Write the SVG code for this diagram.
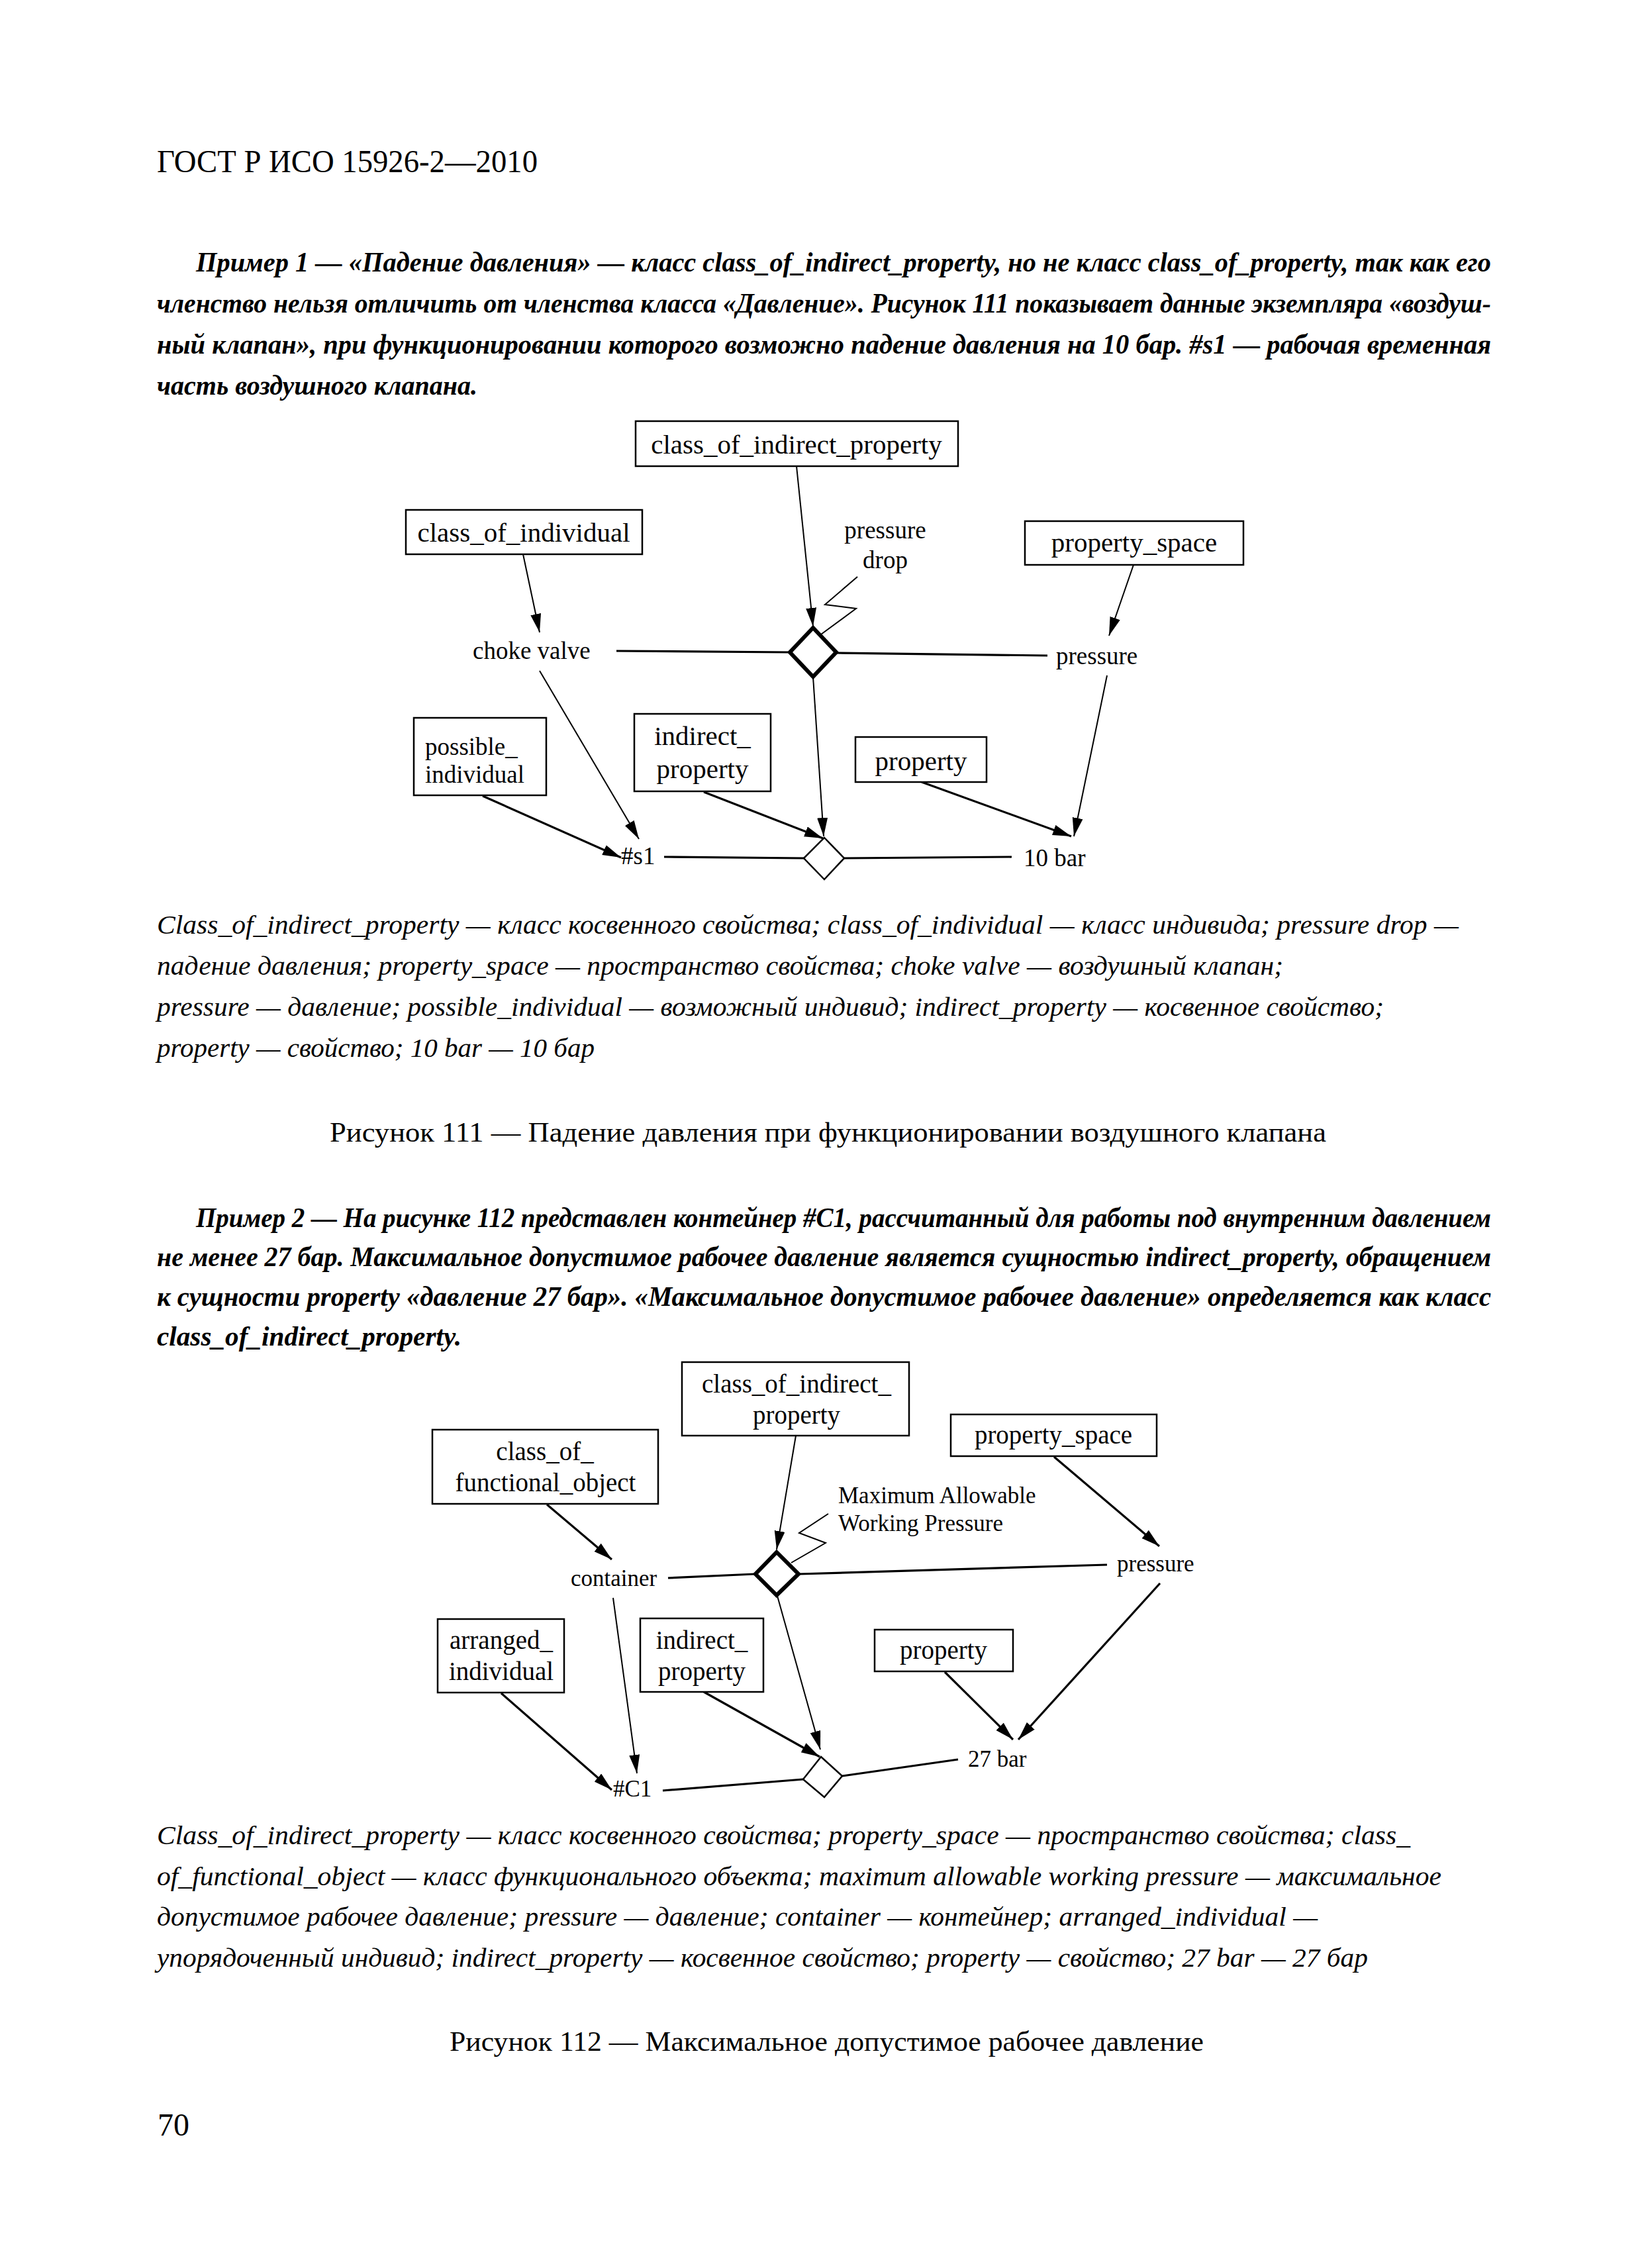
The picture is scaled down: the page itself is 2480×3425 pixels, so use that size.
<svg xmlns="http://www.w3.org/2000/svg" width="2480" height="3425" viewBox="0 0 2480 3425">
<style>
text { font-family: "Liberation Serif", "Times New Roman", serif; fill: #000; }
.hdr { font-size: 48px; }
.para { font-size: 42px; font-weight: bold; font-style: italic; }
.cap { font-size: 41px; font-style: italic; }
.title { font-size: 42px; }
.bl1 { font-size: 41px; text-anchor: middle; }
.bl2 { font-size: 39px; text-anchor: middle; }
.fl1 { font-size: 37px; }
.fl2 { font-size: 35px; }
.box { fill: #fff; stroke: #000; stroke-width: 2.5; }
.dia { fill: #fff; stroke: #000; stroke-width: 2.5; stroke-linejoin: miter; }
.bdia { fill: #fff; stroke: #000; stroke-width: 6; stroke-linejoin: miter; }
.c { stroke: #000; stroke-width: 2; fill: none; }
.t { stroke-width: 3.2; }
.a { marker-end: url(#arr); }
</style>
<defs>
<marker id="arr" markerUnits="userSpaceOnUse" markerWidth="30" markerHeight="18" refX="28" refY="8" orient="auto">
<path d="M0,0 L28,8 L0,16 z" fill="#000"/>
</marker>
</defs>
<rect width="2480" height="3425" fill="#fff"/>

<text class="hdr" x="237" y="260" textLength="575" lengthAdjust="spacingAndGlyphs">ГОСТ Р ИСО 15926-2—2010</text>

<g id="paragraph1">
<text class="para" x="296" y="410" textLength="1956" lengthAdjust="spacingAndGlyphs">Пример 1 — «Падение давления» — класс class_of_indirect_property, но не класс class_of_property, так как его</text>
<text class="para" x="237" y="472" textLength="2015" lengthAdjust="spacingAndGlyphs">членство нельзя отличить от членства класса «Давление». Рисунок 111 показывает данные экземпляра «воздуш-</text>
<text class="para" x="237" y="534" textLength="2015" lengthAdjust="spacingAndGlyphs">ный клапан», при функционировании которого возможно падение давления на 10 бар. #s1 — рабочая временная</text>
<text class="para" x="237" y="596" textLength="484" lengthAdjust="spacingAndGlyphs">часть воздушного клапана.</text>
</g>

<!-- Diagram 1 -->
<g id="connectors1">
<line class="c a" x1="790" y1="837" x2="815" y2="955"/>
<line class="c a" x1="1203" y1="704" x2="1228" y2="946"/>
<line class="c a" x1="1712" y1="853" x2="1675" y2="960"/>
<line class="c t" x1="931" y1="983" x2="1192" y2="985"/>
<line class="c t" x1="1263" y1="986" x2="1582" y2="990"/>
<polyline class="c" points="1295,871 1246,913 1293,919 1240,958" stroke-width="2.5"/>
<line class="c a" x1="815" y1="1013" x2="965" y2="1267"/>
<line class="c t a" x1="729" y1="1202" x2="938" y2="1295"/>
<line class="c a" x1="1228" y1="1022" x2="1244" y2="1263"/>
<line class="c t a" x1="1063" y1="1196" x2="1243" y2="1266"/>
<line class="c t" x1="1003" y1="1294" x2="1214" y2="1296"/>
<line class="c t" x1="1275" y1="1296" x2="1528" y2="1294"/>
<line class="c t a" x1="1392" y1="1181" x2="1618" y2="1263"/>
<line class="c a" x1="1672" y1="1020" x2="1622" y2="1263"/>
</g>
<g id="d1_class_of_indirect_property">
<rect class="box" x="960" y="636" width="487" height="68"/>
<text class="bl1" x="1203" y="685">class_of_indirect_property</text>
</g>
<g id="d1_class_of_individual">
<rect class="box" x="613" y="770" width="357" height="67"/>
<text class="bl1" x="791" y="818">class_of_individual</text>
</g>
<g id="d1_property_space">
<rect class="box" x="1548" y="787" width="330" height="66"/>
<text class="bl1" x="1713" y="833">property_space</text>
</g>
<g id="d1_pressure_drop">
<text class="fl1" x="1337" y="813" text-anchor="middle">pressure</text>
<text class="fl1" x="1337" y="858" text-anchor="middle">drop</text>
</g>
<g id="d1_choke_valve"><text class="fl1" x="714" y="995">choke valve</text></g>
<g id="d1_pressure"><text class="fl1" x="1595" y="1003">pressure</text></g>
<g id="d1_rel_diamond"><polygon class="bdia" points="1228,948 1263,985 1228,1022 1193,985"/></g>
<g id="d1_possible_individual">
<rect class="box" x="625" y="1084" width="200" height="117"/>
<text class="fl1" x="642" y="1140" font-size="41">possible_</text>
<text class="fl1" x="642" y="1182" font-size="41">individual</text>
</g>
<g id="d1_indirect_property">
<rect class="box" x="958" y="1078" width="206" height="117"/>
<text class="bl1" x="1061" y="1125">indirect_</text>
<text class="bl1" x="1061" y="1175">property</text>
</g>
<g id="d1_property">
<rect class="box" x="1292" y="1113" width="198" height="68"/>
<text class="bl1" x="1391" y="1163">property</text>
</g>
<g id="d1_s1"><text class="fl1" x="938" y="1305">#s1</text></g>
<g id="d1_small_diamond"><polygon class="dia" points="1245,1265 1275,1296 1245,1328 1214,1296"/></g>
<g id="d1_10bar"><text class="fl1" x="1546" y="1308">10 bar</text></g>

<g id="caption1">
<text class="cap" x="237" y="1410" textLength="1966" lengthAdjust="spacingAndGlyphs">Class_of_indirect_property — класс косвенного свойства; class_of_individual — класс индивида; pressure drop —</text>
<text class="cap" x="237" y="1472" textLength="1701" lengthAdjust="spacingAndGlyphs">падение давления; property_space — пространство свойства; choke valve — воздушный клапан;</text>
<text class="cap" x="237" y="1534" textLength="1853" lengthAdjust="spacingAndGlyphs">pressure — давление; possible_individual — возможный индивид; indirect_property — косвенное свойство;</text>
<text class="cap" x="237" y="1596" textLength="661" lengthAdjust="spacingAndGlyphs">property — свойство; 10 bar — 10 бар</text>
<text class="title" x="498" y="1724" textLength="1505" lengthAdjust="spacingAndGlyphs">Рисунок 111 — Падение давления при функционировании воздушного клапана</text>
</g>

<g id="paragraph2">
<text class="para" x="296" y="1853" textLength="1956" lengthAdjust="spacingAndGlyphs">Пример 2 — На рисунке 112 представлен контейнер #C1, рассчитанный для работы под внутренним давлением</text>
<text class="para" x="237" y="1912" textLength="2015" lengthAdjust="spacingAndGlyphs">не менее 27 бар. Максимальное допустимое рабочее давление является сущностью indirect_property, обращением</text>
<text class="para" x="237" y="1972" textLength="2015" lengthAdjust="spacingAndGlyphs">к сущности property «давление 27 бар». «Максимальное допустимое рабочее давление» определяется как класс</text>
<text class="para" x="237" y="2032" textLength="460" lengthAdjust="spacingAndGlyphs">class_of_indirect_property.</text>
</g>

<!-- Diagram 2 -->
<g id="connectors2">
<line class="c a" x1="1202" y1="2168" x2="1173" y2="2340"/>
<line class="c t a" x1="826" y1="2272" x2="924" y2="2355"/>
<line class="c t a" x1="1592" y1="2200" x2="1751" y2="2335"/>
<line class="c t" x1="1009" y1="2383" x2="1140" y2="2377"/>
<line class="c t" x1="1207" y1="2377" x2="1672" y2="2363"/>
<polyline class="c" points="1251,2286 1207,2315 1247,2330 1195,2360" stroke-width="2.5"/>
<line class="c a" x1="926" y1="2413" x2="962" y2="2678"/>
<line class="c t a" x1="757" y1="2557" x2="924" y2="2703"/>
<line class="c t" x1="1001" y1="2704" x2="1213" y2="2687"/>
<line class="c t" x1="1272" y1="2682" x2="1447" y2="2657"/>
<line class="c t a" x1="1063" y1="2555" x2="1238" y2="2653"/>
<line class="c a" x1="1174" y1="2410" x2="1239" y2="2642"/>
<line class="c t a" x1="1427" y1="2525" x2="1530" y2="2627"/>
<line class="c t a" x1="1752" y1="2391" x2="1538" y2="2627"/>
</g>
<g id="d2_class_of_indirect_property">
<rect class="box" x="1030" y="2057" width="343" height="111"/>
<text class="bl2" x="1203" y="2103">class_of_indirect_</text>
<text class="bl2" x="1203" y="2150">property</text>
</g>
<g id="d2_class_of_functional_object">
<rect class="box" x="653" y="2159" width="341" height="112"/>
<text class="bl2" x="823" y="2205">class_of_</text>
<text class="bl2" x="824" y="2252">functional_object</text>
</g>
<g id="d2_property_space">
<rect class="box" x="1436" y="2136" width="311" height="63"/>
<text class="bl2" x="1591" y="2180">property_space</text>
</g>
<g id="d2_mawp">
<text class="fl2" x="1266" y="2270">Maximum Allowable</text>
<text class="fl2" x="1266" y="2312">Working Pressure</text>
</g>
<g id="d2_rel_diamond"><polygon class="bdia" points="1173,2344 1206,2377 1173,2409 1141,2377"/></g>
<g id="d2_container"><text class="fl2" x="862" y="2395">container</text></g>
<g id="d2_pressure"><text class="fl2" x="1687" y="2373">pressure</text></g>
<g id="d2_arranged_individual">
<rect class="box" x="661" y="2445" width="191" height="111"/>
<text class="bl2" x="757" y="2490">arranged_</text>
<text class="bl2" x="757" y="2537">individual</text>
</g>
<g id="d2_indirect_property">
<rect class="box" x="967" y="2444" width="186" height="111"/>
<text class="bl2" x="1060" y="2490">indirect_</text>
<text class="bl2" x="1060" y="2537">property</text>
</g>
<g id="d2_property">
<rect class="box" x="1321" y="2461" width="209" height="63"/>
<text class="bl2" x="1425" y="2505">property</text>
</g>
<g id="d2_C1"><text class="fl2" x="926" y="2713">#C1</text></g>
<g id="d2_small_diamond"><polygon class="dia" points="1240,2653 1272,2682 1245,2714 1213,2687"/></g>
<g id="d2_27bar"><text class="fl2" x="1462" y="2668">27 bar</text></g>

<g id="caption2">
<text class="cap" x="237" y="2785" textLength="1893" lengthAdjust="spacingAndGlyphs">Class_of_indirect_property — класс косвенного свойства; property_space — пространство свойства; class_</text>
<text class="cap" x="237" y="2847" textLength="1940" lengthAdjust="spacingAndGlyphs">of_functional_object — класс функционального объекта; maximum allowable working pressure — максимальное</text>
<text class="cap" x="237" y="2908" textLength="1753" lengthAdjust="spacingAndGlyphs">допустимое рабочее давление; pressure — давление; container — контейнер; arranged_individual —</text>
<text class="cap" x="237" y="2970" textLength="1829" lengthAdjust="spacingAndGlyphs">упорядоченный индивид; indirect_property — косвенное свойство; property — свойство; 27 bar — 27 бар</text>
<text class="title" x="679" y="3097" textLength="1139" lengthAdjust="spacingAndGlyphs">Рисунок 112 — Максимальное допустимое рабочее давление</text>
</g>

<text class="hdr" x="238" y="3225" font-size="46">70</text>
</svg>
